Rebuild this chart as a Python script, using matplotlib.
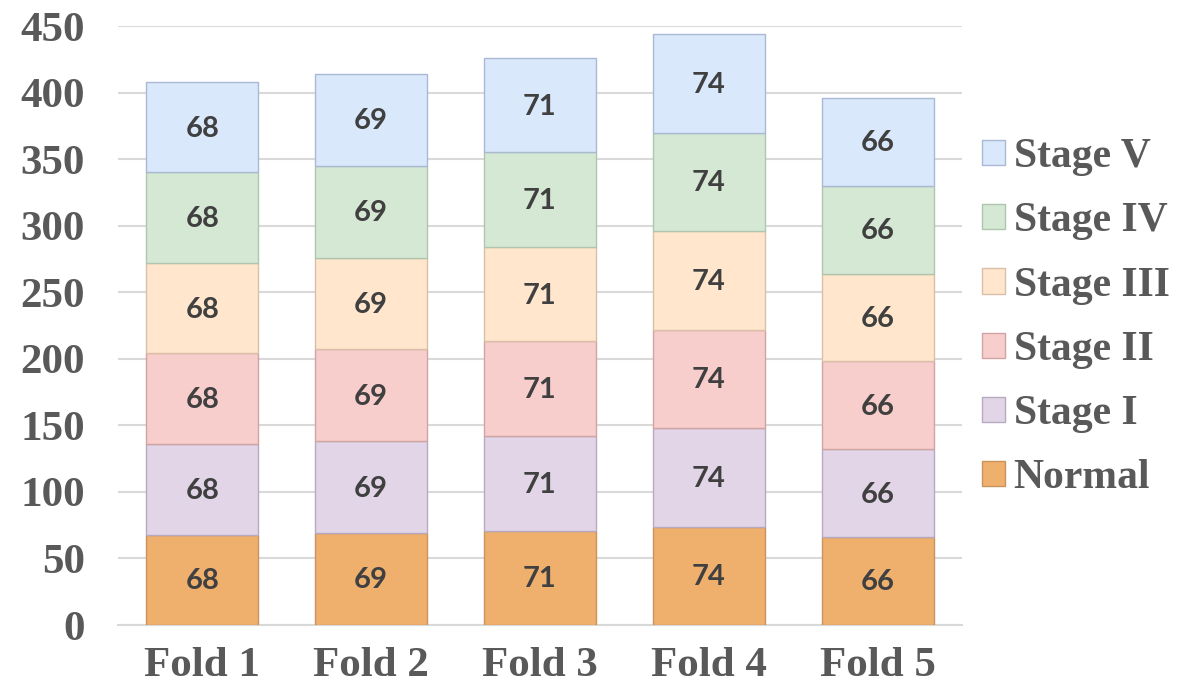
import matplotlib.pyplot as plt
import numpy as np

folds = ['Fold 1', 'Fold 2', 'Fold 3', 'Fold 4', 'Fold 5']
stages = ['Normal', 'Stage I', 'Stage II', 'Stage III', 'Stage IV', 'Stage V']
normal = [68, 69, 71, 74, 66]
stage_1 = [68, 69, 71, 74, 66]
stage_2 = [68, 69, 71, 74, 66]
stage_3 = [68, 69, 71, 74, 66]
stage_4 = [68, 69, 71, 74, 66]
stage_5 = [68, 69, 71, 74, 66]
series = [normal, stage_1, stage_2, stage_3, stage_4, stage_5]

fills = ['#EFB06E', '#E1D5E7', '#F8CECC', '#FFE6CC', '#D5E8D4', '#DAE8FC']
edges = ['#C8935C', '#B8A9C2', '#CFA4A3', '#D8C0A8', '#AFC6AE', '#A9B9D3']

fig = plt.figure(figsize=(11.98, 6.94), dpi=100)
ax = fig.add_axes([0.0985, 0.0994, 0.7045, 0.8631])

x = np.arange(len(folds))
bottom = np.zeros(len(folds))
handles = []
for vals, name, fc, ec in zip(series, stages, fills, edges):
    bars = ax.bar(x, vals, 0.664, bottom=bottom, color=fc, edgecolor=ec,
                  linewidth=1.0, label=name, zorder=3)
    for xi, b, v in zip(x, bottom, vals):
        ax.text(xi, b + v / 2 - 1, str(v), ha='center', va='center',
                fontsize=21, family='Lato', fontweight='bold',
                color='#404040', zorder=4)
    bottom += np.array(vals)
    handles.append(bars)

ax.set_xlim(-0.5, 4.5)
ax.set_ylim(0, 450)
ax.set_yticks(range(0, 451, 50))
ax.set_xticks(x)
ax.set_xticklabels(folds)
ax.yaxis.grid(True, color='#D9D9D9', linewidth=1.5, zorder=0)
ax.set_axisbelow(True)
for s in ['top', 'right', 'left']:
    ax.spines[s].set_visible(False)
ax.spines['bottom'].set_color('#D9D9D9')
ax.spines['bottom'].set_linewidth(1.5)
ax.tick_params(length=0, colors='#595959')
for lbl in ax.get_xticklabels() + ax.get_yticklabels():
    lbl.set_fontfamily('Liberation Serif')
    lbl.set_fontweight('bold')
    lbl.set_fontsize(31)
    lbl.set_color('#595959')
ax.tick_params(axis='y', pad=24)
ax.tick_params(axis='x', pad=16)

leg = fig.legend(handles[::-1], stages[::-1], loc='center left',
                 bbox_to_anchor=(0.806, 0.542), frameon=False,
                 prop={'family': 'Liberation Serif', 'weight': 'bold', 'size': 30},
                 handlelength=0.55, handleheight=0.55, handletextpad=0.2,
                 labelspacing=0.63, borderaxespad=0)
for t in leg.get_texts():
    t.set_color('#595959')

fig.savefig('out.png', dpi=100)
